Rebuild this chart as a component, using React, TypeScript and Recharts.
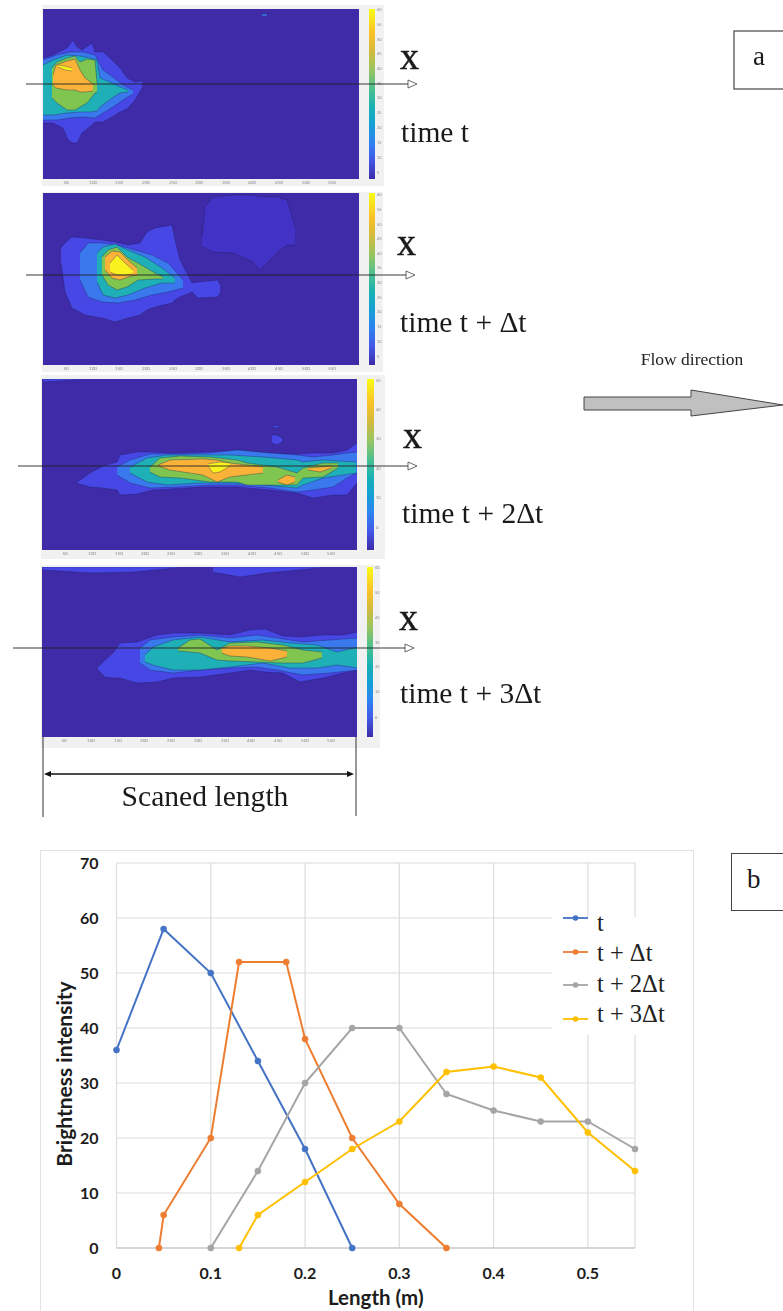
import React from 'react';
import { ComposedChart, LineChart, Area, Line, XAxis, YAxis, CartesianGrid, Legend } from 'recharts';

// ---------- Brightness profile data (panel b) ----------
const profileT = [[0, 36], [0.05, 58], [0.1, 50], [0.15, 34], [0.2, 18], [0.25, 0]];
const profileT1 = [[0.045, 0], [0.05, 6], [0.1, 20], [0.13, 52], [0.18, 52], [0.2, 38], [0.25, 20], [0.3, 8], [0.35, 0]];
const profileT2 = [[0.1, 0], [0.15, 14], [0.2, 30], [0.25, 40], [0.3, 40], [0.35, 28], [0.4, 25], [0.45, 23], [0.5, 23], [0.55, 18]];
const profileT3 = [[0.13, 0], [0.15, 6], [0.2, 12], [0.25, 18], [0.3, 23], [0.35, 32], [0.4, 33], [0.45, 31], [0.5, 21], [0.55, 14]];
const xTicks = [0, 0.1, 0.2, 0.3, 0.4, 0.5];
const yTicks = [0, 10, 20, 30, 40, 50, 60, 70];
const seriesNames = ['t', 't + Δt', 't + 2Δt', 't + 3Δt'];
const seriesColors = ['#4472C4', '#ED7D31', '#A5A5A5', '#FFC000'];
const legendTextShift = [5, 1, -1, -5];

// ---------- Contour bands (panel a): [position, upper edge, lower edge] ----------
const FAINT = '#4233c6', L1 = '#4747e6', L2 = '#3a78ee', L3 = '#1eb0b6', L4 = '#7fc54f', L5 = '#fbb238', L6 = '#f9f21f';
const BASE = '#3f2aa8';

const p1L1 = [[43,58,123],[53,55,123],[63,50,128],[68,47,140],[73,40,143],[77,47,143],[82,50,133],[92,43,125],[95,52,122],[103,52,122],[112,60,117],[120,68,112],[127,78,109],[135,82,100],[142,81,88]];
const p1L2 = [[43,60,120],[57,55,120],[70,52,118],[83,52,117],[95,55,118],[103,70,113],[113,77,107],[123,85,100],[133,90,94]];
const p1L3 = [[43,65,115],[53,60,115],[67,55,113],[80,56,112],[90,58,112],[97,60,111],[100,78,107],[112,83,98],[120,87,93],[128,90,92]];
const p1L4 = [[52,68,98],[57,62,103],[67,58,110],[75,56,110],[80,62,107],[87,59,103],[95,60,93],[97,83,92]];
const p1L5 = [[53,75,85],[56,65,88],[67,61,90],[75,59,90],[80,70,92],[85,78,92],[93,84,91]];
const p1L6 = [[58,65,67],[65,66,70],[72,68,71]];
const p1Speck = [[262,14,16],[267,14,16]];

const p2L0 = [[202,237,247],[205,207,248],[213,197,252],[233,195,253],[253,195,262],[260,197,270],[277,197,253],[287,200,245],[295,227,245]];
const p2L1 = [[61,248,263],[65,243,292],[72,237,308],[85,238,315],[102,240,318],[115,242,322],[128,245,318],[140,243,315],[147,232,310],[155,228,307],[172,225,303],[175,240,300],[180,260,297],[192,283,292],[198,282,298],[218,280,297],[220,285,293]];
const p2L2 = [[80,253,280],[88,243,297],[102,243,302],[118,245,303],[135,250,300],[152,255,295],[168,263,292],[183,280,288]];
const p2L3 = [[97,253,282],[103,247,295],[115,244,298],[128,250,295],[145,257,288],[162,268,283],[175,278,283]];
const p2L4 = [[102,257,275],[108,250,285],[117,247,290],[127,257,287],[138,263,280],[155,273,279],[163,277,279]];
const p2L5 = [[105,257,270],[112,251,278],[120,252,280],[128,260,277],[137,268,275]];
const p2L6 = [[110,263,272],[117,255,275],[125,263,275],[133,270,274]];

const p3L1 = [[76,483,483],[90,473,487],[103,466,488],[117,462,490],[120,455,495],[137,452,494],[153,452,490],[170,453,489],[203,452,487],[237,450,487],[270,453,490],[297,454,493],[313,453,498],[333,453,495],[347,450,495],[357,443,483]];
const p3L2 = [[117,467,475],[130,460,483],[150,454,488],[177,454,487],[210,453,485],[237,450,485],[270,453,488],[297,455,492],[313,457,490],[333,455,487],[347,453,478],[357,452,473]];
const p3L3 = [[130,467,473],[147,458,482],[167,455,485],[197,455,483],[230,455,483],[263,457,485],[297,460,488],[303,462,485],[323,460,478],[356,462,473]];
const p3L4 = [[150,467,472],[160,458,477],[180,456,478],[210,457,482],[237,460,482],[247,463,485],[277,467,485],[297,473,485],[303,468,478],[323,463,477],[338,463,468]];
const p3L5a = [[158,465,466],[170,460,470],[203,459,475],[217,460,482],[230,463,477],[263,467,473]];
const p3L5b = [[278,480,482],[287,475,485],[295,477,482]];
const p3L5c = [[308,468,470],[320,467,472],[332,466,468]];
const p3L6 = [[208,464,466],[213,463,473],[220,462,472],[230,463,466]];
const p3Speck1 = [[272,435,443],[277,435,445],[282,438,442]];
const p3Speck2 = [[272,426,427],[278,425,428]];
const p3Edge = [[43,379,382],[77,379,380]];

const p4Top1 = [[43,567,570],[93,567,573],[133,567,572],[177,567,568]];
const p4Top2 = [[213,567,572],[240,567,577],[267,567,573],[320,567,568]];
const p4L1 = [[98,667,670],[105,660,677],[113,653,678],[120,643,678],[137,642,683],[157,635,682],[173,633,678],[200,633,677],[230,635,673],[250,630,670],[265,629,672],[283,636,673],[300,637,682],[323,635,678],[343,635,673],[358,632,670]];
const p4L2 = [[140,648,663],[150,640,670],[173,637,673],[200,635,670],[230,638,668],[257,635,667],[277,638,670],[303,642,675],[330,640,673],[358,638,670]];
const p4L3 = [[145,655,662],[153,647,665],[173,640,670],[200,637,670],[230,642,667],[263,640,663],[290,643,668],[317,645,668],[337,652,665],[358,647,668]];
const p4L4 = [[178,648,651],[190,640,652],[200,639,653],[217,650,660],[230,643,661],[257,642,662],[283,645,663],[303,650,663],[322,652,658]];
const p4L5 = [[222,648,653],[230,646,656],[247,646,657],[270,648,661],[287,651,657]];

const scanLabels = [50, 100, 150, 200, 250, 300, 350, 400, 450, 500, 550];
const p1Ticks = [66, 93, 119, 146, 173, 199, 226, 252, 279, 306, 332];
const p2Ticks = [66, 93, 119, 146, 173, 199, 226, 252, 279, 306, 332];
const p3Ticks = [65, 92, 119, 145, 171, 198, 225, 252, 278, 305, 331];
const p4Ticks = [64, 91, 118, 144, 171, 198, 225, 251, 278, 305, 331];

const cbP1 = [[60,9],[55,24],[50,39],[45,53],[40,68],[35,83],[30,97],[25,112],[20,127],[15,142],[10,157],[5,172]];
const cbP2 = [[60,194],[55,209],[50,224],[45,238],[40,253],[35,267],[30,282],[25,297],[20,311],[15,326],[10,341],[5,356]];
const cbP3 = [[50,380],[40,409],[30,438],[20,468],[10,497],[0,527]];
const cbP4 = [[60,567],[50,592],[40,617],[30,642],[20,666],[10,691],[0,717]];

const panels = [
  { key: 'p1', left: 43, top: 9, w: 316, h: 170, ticks: p1Ticks, cb: [369, 375], cbl: cbP1,
    bg: [42, 5, 342, 181],
    bands: [[p1L1, L1], [p1L2, L2], [p1L3, L3], [p1L4, L4], [p1L5, L5], [p1L6, L6], [p1Speck, L2]] },
  { key: 'p2', left: 43, top: 193, w: 316, h: 172, ticks: p2Ticks, cb: [369, 375], cbl: cbP2,
    bg: [42, 192, 341, 180],
    bands: [[p2L0, FAINT], [p2L1, L1], [p2L2, L2], [p2L3, L3], [p2L4, L4], [p2L5, L5], [p2L6, L6]] },
  { key: 'p3', left: 42, top: 379, w: 315, h: 171, ticks: p3Ticks, cb: [367, 374], cbl: cbP3,
    bg: [41, 375, 344, 184],
    bands: [[p3L1, L1], [p3L2, L2], [p3L3, L3], [p3L4, L4], [p3L5a, L5], [p3L5b, L5], [p3L5c, L5], [p3L6, L6], [p3Speck1, L1], [p3Speck2, L1], [p3Edge, L1]] },
  { key: 'p4', left: 42, top: 567, w: 315, h: 170, ticks: p4Ticks, cb: [367, 373], cbl: cbP4,
    bg: [41, 565, 339, 183],
    bands: [[p4Top1, L1], [p4Top2, L1], [p4L1, L1], [p4L2, L2], [p4L3, L3], [p4L4, L4], [p4L5, L5]] },
];

const parula = 'linear-gradient(to bottom,#f9fb15 0%,#fac228 14%,#d6bb3a 24%,#97c462 36%,#4cc08f 47%,#16b1b5 58%,#14a0d5 68%,#2c84f0 78%,#4358e8 89%,#3c2ba8 100%)';

const guideArrows = [
  { y: 84, from: 26, to: 408 },
  { y: 275, from: 26, to: 406 },
  { y: 466, from: 18, to: 408 },
  { y: 648, from: 13, to: 405 },
];
const xMarks = [[400, 69], [397, 255], [403, 448], [399, 630]];
const timeLabels = [['time t', 401, 142], ['time t + Δt', 400, 332], ['time t + 2Δt', 402, 523], ['time t + 3Δt', 400, 703]];

const serif = '"Liberation Serif", serif';
const sans = 'Lato, sans-serif';

function ContourPanel({ p }: { p: any }) {
  return (
    <div style={{ position: 'absolute', left: p.left, top: p.top, width: p.w, height: p.h + 10 }}>
      <div style={{ position: 'absolute', left: 0, top: 0, width: p.w, height: p.h, background: BASE }} />
      <ComposedChart width={p.w} height={p.h + 10} margin={{ top: 0, right: 0, bottom: 0, left: 0 }} style={{ position: 'absolute', left: 0, top: 0 }}>
        <XAxis type="number" dataKey="x" domain={[p.left, p.left + p.w]} ticks={p.ticks} allowDataOverflow height={10} axisLine={false} tickLine={false} interval={0}
          tick={{ fontSize: 4.5, fill: '#888', fontFamily: sans, dy: -4 }} tickMargin={0}
          tickFormatter={(_: any, i: number) => String(scanLabels[i])} />
        <YAxis type="number" hide reversed domain={[p.top, p.top + p.h]} allowDataOverflow />
        {p.bands.map(([rows, color]: any, i: number) => (
          <Area key={i} data={rows.map((r: number[]) => ({ x: r[0], band: [r[1], r[2]] }))} dataKey="band" type="linear"
            fill={color} fillOpacity={1} stroke="#1d1d55" strokeOpacity={0.7} strokeWidth={0.5} dot={false} activeDot={false} isAnimationActive={false} legendType="none" />
        ))}
      </ComposedChart>
    </div>
  );
}

function ProfileLegend() {
  return (
    <div style={{ background: '#fff', width: 138, height: 118, position: 'relative' }}>
      {seriesNames.map((n, i) => (
        <div key={n} style={{ position: 'absolute', left: 11, top: -16 + i * 33.6, height: 34, display: 'flex', alignItems: 'center', whiteSpace: 'nowrap' }}>
          <svg width={26} height={10}><line x1={0} x2={25} y1={5} y2={5} stroke={seriesColors[i]} strokeWidth={1.8} /><circle cx={12.5} cy={5} r={2.8} fill={seriesColors[i]} /></svg>
          <span style={{ marginLeft: 8, fontFamily: serif, fontSize: 24.5, color: '#222', lineHeight: '34px', position: 'relative', top: legendTextShift[i] }}>{n}</span>
        </div>
      ))}
    </div>
  );
}

function YTitle() {
  return (
    <text x={0} y={0} transform="translate(23 224) rotate(-90)" textAnchor="middle" dominantBaseline="central"
      fontFamily={sans} fontWeight={700} fontSize={21} fill="#1c1c1c">Brightness intensity</text>
  );
}

const profiles = [profileT, profileT1, profileT2, profileT3];

export default function App() {
  return (
    <div style={{ position: 'absolute', left: 0, top: 0, width: 783, height: 1311, background: '#fff', overflow: 'hidden' }}>
      <div style={{ filter: 'blur(0.5px)' }}>
        {panels.map((p) => (
          <React.Fragment key={p.key}>
            <div style={{ position: 'absolute', left: p.bg[0], top: p.bg[1], width: p.bg[2], height: p.bg[3], background: '#f1f1f1' }} />
            <ContourPanel p={p} />
            <div style={{ position: 'absolute', left: p.cb[0], top: p.top, width: p.cb[1] - p.cb[0], height: p.h, background: parula }} />
          </React.Fragment>
        ))}
      </div>

      <svg width={783} height={830} style={{ position: 'absolute', left: 0, top: 0 }}>
        {panels.map((p) => p.cbl.map(([v, y]: number[]) => (
          <text key={`${p.key}${v}`} x={p.cb[1] + 2} y={y + 2} fontFamily={sans} fontSize={4} fill="#888">{v}</text>
        )))}
        {guideArrows.map((a) => (
          <g key={a.y}>
            <line x1={a.from} x2={a.to} y1={a.y} y2={a.y} stroke="#222" strokeWidth={0.9} />
            <polygon points={`${a.to},${a.y - 4} ${a.to + 9},${a.y} ${a.to},${a.y + 4}`} fill="#fff" stroke="#444" strokeWidth={0.8} />
          </g>
        ))}
        {xMarks.map(([x, y]) => (
          <text key={y} x={x} y={y} fontFamily={serif} fontSize={38} fill="#1a1a1a" stroke="#1a1a1a" strokeWidth={0.5}>x</text>
        ))}
        {timeLabels.map(([t, x, y]) => (
          <text key={t as string} x={x as number} y={y as number} fontFamily={serif} fontSize={29.5} fill="#1a1a1a">{t}</text>
        ))}
        <line x1={43} x2={43} y1={737} y2={817} stroke="#333" strokeWidth={1} />
        <line x1={356} x2={356} y1={737} y2={816} stroke="#333" strokeWidth={1} />
        <line x1={48} x2={350} y1={774} y2={774} stroke="#111" strokeWidth={1.4} />
        <polygon points="44,774 51,771 51,777" fill="#111" />
        <polygon points="354,774 347,771 347,777" fill="#111" />
        <text x={205} y={806} textAnchor="middle" fontFamily={serif} fontSize={29.6} fill="#1a1a1a">Scaned length</text>

        <rect x={734} y={31} width={60} height={58} fill="#fff" stroke="#444" strokeWidth={1.2} />
        <text x={753} y={65} fontFamily={serif} fontSize={27} fill="#1a1a1a">a</text>
        <text x={692} y={365} textAnchor="middle" fontFamily={serif} fontSize={17.5} fill="#222">Flow direction</text>
        <polygon points="584,397 691,397 691,390 783,405 783,405 691,416 691,410 584,410" fill="#c0c0c0" stroke="#444" strokeWidth={1} />
      </svg>

      <div style={{ position: 'absolute', left: 40, top: 850, width: 654, height: 470, border: '1px solid #e2e2e2', boxSizing: 'border-box' }} />
      <div style={{ position: 'absolute', left: 731, top: 853, width: 60, height: 58, border: '1.2px solid #444', boxSizing: 'border-box' }} />
      <div style={{ position: 'absolute', left: 747, top: 864, fontFamily: serif, fontSize: 27, lineHeight: '30px', color: '#1a1a1a' }}>b</div>

      <div style={{ position: 'absolute', left: 40, top: 850 }}>
        <LineChart width={655} height={461} margin={{ top: 13, right: 60, bottom: 0, left: 0 }}>
          <CartesianGrid stroke="#dcdcdc" strokeWidth={1.2} />
          <XAxis type="number" dataKey="x" domain={[0, 0.55]} ticks={xTicks} height={63} interval={0}
            axisLine={{ stroke: '#bfbfbf', strokeWidth: 1.2 }} tickLine={false} tickMargin={14}
            tick={{ fontSize: 16, fontWeight: 700, fill: '#1c1c1c', fontFamily: sans }}
            label={{ value: 'Length (m)', position: 'insideBottom', offset: 6, style: { fontSize: 20.5, fontWeight: 700, fill: '#1c1c1c', fontFamily: sans } }} />
          <YAxis type="number" domain={[0, 70]} ticks={yTicks} width={76.5} interval={0} axisLine={false} tickLine={false} tickMargin={12}
            tick={{ fontSize: 16, fontWeight: 700, fill: '#1c1c1c', fontFamily: sans }}
            label={<YTitle />} />
          <Legend layout="horizontal" verticalAlign="middle" align="center" content={<ProfileLegend />}
            wrapperStyle={{ left: 512, top: 67, width: 138, height: 118, margin: 0 }} />
          {profiles.map((rows, i) => (
            <Line key={seriesNames[i]} name={seriesNames[i]} data={rows.map((r) => ({ x: r[0], y: r[1] }))} dataKey="y" type="linear"
              stroke={seriesColors[i]} strokeWidth={2} dot={{ r: 3.1, fill: seriesColors[i], stroke: seriesColors[i], strokeWidth: 0.5 }}
              activeDot={false} isAnimationActive={false} />
          ))}
        </LineChart>
      </div>
    </div>
  );
}
